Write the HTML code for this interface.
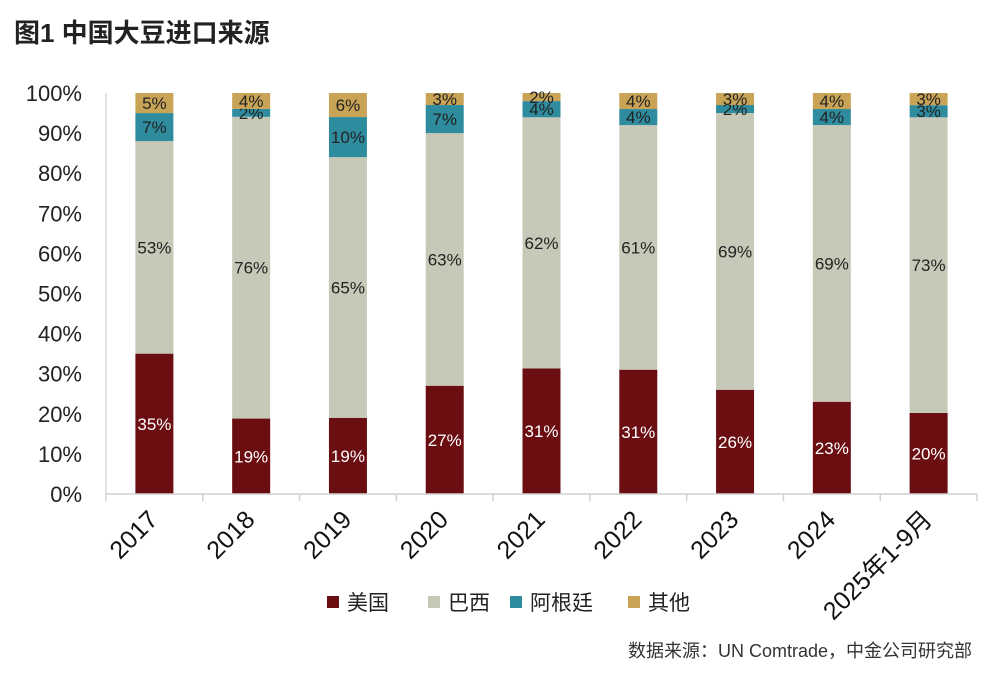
<!DOCTYPE html>
<html><head><meta charset="utf-8"><style>
body{margin:0;background:#fff;width:1000px;height:677px;overflow:hidden;font-family:"Liberation Sans","Noto Sans CJK SC",sans-serif}
</style></head><body>
<svg width="1000" height="677">
<text x="14" y="42" font-size="26" font-weight="bold" fill="#222" font-family="Liberation Sans, Noto Sans CJK SC, sans-serif">图1  中国大豆进口来源</text>
<g id="yaxis"></g>
<g id="bars"></g>
<g id="xaxis"></g>
<g id="legend"></g>
<text x="972" y="657" text-anchor="end" font-size="18" fill="#333" font-family="Liberation Sans, Noto Sans CJK SC, sans-serif">数据来源：UN Comtrade，中金公司研究部</text>
</svg>
<script>
const categories=["2017","2018","2019","2020","2021","2022","2023","2024","2025年1-9月"];
const seriesNames=["美国","巴西","阿根廷","其他"];
const usa=[35,19,19,27,31,31,26,23,20];
const brazil=[53,76,65,63,62,61,69,69,73];
const argentina=[7,2,10,7,4,4,2,4,3];
const others=[5,4,6,3,2,4,3,4,3];
const yTicks=[0,10,20,30,40,50,60,70,80,90,100];
const colors=["#6b0e12","#c6c9b7","#2e8c9e","#c9a457"];
const labelColors=["#fff","#222","#222","#222"];
const NS="http://www.w3.org/2000/svg";
const x0=106,x1=977,y0=494,y100=93;
const bw=(x1-x0)/categories.length, barW=38;
const y=v=>y0-(y0-y100)*v/100;
const xc=i=>x0+bw*(i+0.5);
function mk(tag,attrs,parent,txt){const e=document.createElementNS(NS,tag);for(const k in attrs)e.setAttribute(k,attrs[k]);if(txt!==undefined)e.textContent=txt;parent.appendChild(e);return e;}
const ya=document.getElementById('yaxis');
mk('line',{x1:x0,y1:y100,x2:x0,y2:y0,stroke:'#d8d8d8','stroke-width':1.5},ya);
yTicks.forEach(t=>{const e=mk('text',{x:82,y:y(t)+8,'text-anchor':'end','font-size':22,fill:'#222'},ya,t+'%');

});
const series=[usa,brazil,argentina,others];
const bg=document.getElementById('bars');
categories.forEach((c,i)=>{
  const tot=series.reduce((s,a)=>s+a[i],0);let acc=0;
  series.forEach((a,k)=>{
    const v=a[i]*100/tot, top=y(acc+v), bot=y(acc);
    const r=mk('rect',{x:xc(i)-barW/2,y:top,width:barW,height:bot-top,fill:colors[k]},bg);
    
    
    const t=mk('text',{x:xc(i),y:(top+bot)/2+6,'text-anchor':'middle','font-size':17,fill:labelColors[k]},bg,a[i]+'%');
    
    
    acc+=v;
  });
});
const xa=document.getElementById('xaxis');
mk('line',{x1:x0,y1:y0,x2:x1,y2:y0,stroke:'#d0d0d0','stroke-width':1.5},xa);
for(let i=0;i<=categories.length;i++)mk('line',{x1:x0+bw*i,y1:y0,x2:x0+bw*i,y2:y0+7,stroke:'#d0d0d0','stroke-width':1.5},xa);
categories.forEach((c,i)=>{
  const ax=xc(i)+5, ay=y0+27;
  const t=mk('text',{x:ax,y:ay,'text-anchor':'end','font-size':25,fill:'#111',transform:`rotate(-45 ${ax} ${ay})`},xa,c);
  
  
});
const lg=document.getElementById('legend');
const lx=[327,428,510,628];
seriesNames.forEach((n,k)=>{
  const r=mk('rect',{x:lx[k],y:596,width:12,height:12,fill:colors[k]},lg);
  
  
  const t=mk('text',{x:lx[k]+20,y:610,'font-size':21,fill:'#222'},lg,n);
  
  
});
</script>
</body></html>
